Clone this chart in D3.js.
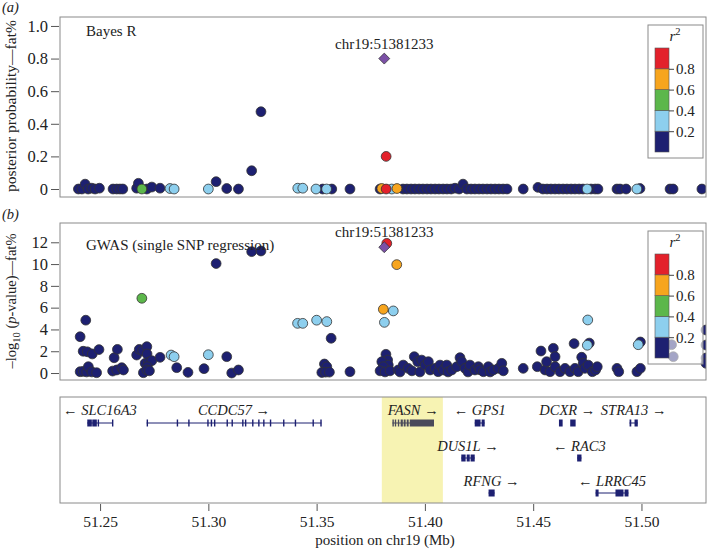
<!DOCTYPE html>
<html lang="en">
<head>
<meta charset="UTF-8">
<title>FASN region</title>
<script src="https://d3js.org/d3.v7.min.js"></script>
<style>
body{margin:0;background:#fff;}
text{font-family:"Liberation Serif","Times New Roman",serif;fill:#222;}
</style>
</head>
<body>
<script>
// r2 classes
var r2Breaks = [0.2, 0.4, 0.6, 0.8];
var r2Colors = ["#1d2071", "#8dcfee", "#5cb74b", "#f7a51e", "#e3212b"];
var leadSnp = {pos: 51.381233, label: "chr19:51381233", bayes: 0.80, gwas: 11.55};

var xTicks = [51.25, 51.30, 51.35, 51.40, 51.45, 51.50];
var bayesTicks = [0, 0.2, 0.4, 0.6, 0.8, 1.0];
var gwasTicks = [0, 2, 4, 6, 8, 10, 12];

// [position Mb, posterior probability, r2]
var bayesSnps = [
  [51.2400,0,.1],[51.2416,0,.1],[51.2431,0.03,.1],[51.2445,0,.1],[51.2462,0.005,.1],[51.2477,0,.1],[51.2497,0.005,.1],
  [51.2560,0,.1],[51.2577,0,.1],[51.2592,0,.1],[51.2605,0,.1],
  [51.2669,0.005,.1],[51.2677,0.035,.1],[51.2693,0,.5],[51.2716,0,.1],[51.2739,0.012,.1],[51.2777,0.005,.1],
  [51.2823,0.003,.3],[51.2842,0,.3],
  [51.3000,0,.3],[51.3036,0.045,.1],[51.3085,0.003,.1],[51.3139,0,.1],[51.3200,0.112,.1],[51.3243,0.474,.1],
  [51.3413,0.005,.3],[51.3436,0.005,.3],[51.3497,0,.3],[51.3528,0,.1],[51.3546,0,.3],[51.3570,0,.1],[51.3654,0,.1],
  [51.3793,0,.1],[51.3801,0.003,.7],[51.3821,0.2,.9],[51.3821,0,.9],[51.3847,0,.3],[51.3871,0.003,.7],
  [51.3899,0,.1],[51.3917,0,.1],[51.3936,0,.1],[51.3954,0,.1],[51.3973,0,.1],[51.3991,0,.1],[51.4010,0,.1],
  [51.4028,0,.1],[51.4047,0,.1],[51.4065,0,.1],[51.4084,0,.1],[51.4102,0,.1],[51.4121,0,.1],[51.4139,0.005,.1],
  [51.4158,0,.1],[51.4176,0.03,.1],[51.4194,0,.1],[51.4213,0,.1],[51.4231,0,.1],[51.4250,0,.1],[51.4268,0,.1],
  [51.4287,0,.1],[51.4305,0,.1],[51.4324,0,.1],[51.4342,0,.1],[51.4361,0,.1],[51.4379,0,.1],
  [51.4454,0,.1],[51.4522,0.01,.1],[51.4545,0,.1],[51.4564,0,.1],[51.4582,0,.1],[51.4601,0,.1],[51.4619,0,.1],
  [51.4638,0,.1],[51.4656,0,.1],[51.4675,0,.1],[51.4693,0,.1],[51.4712,0,.1],[51.4730,0,.1],[51.4749,0,.3],
  [51.4767,0,.1],[51.4786,0,.1],[51.4799,0,.1],
  [51.4887,0,.1],[51.4901,0,.1],[51.4929,0,.1],[51.4979,0,.3],[51.4993,0.003,.1],
  [51.5132,0,.1],[51.5146,0,.1],[51.5279,0,.1]
];

// [position Mb, -log10 p, r2]
var gwasSnps = [
  [51.2408,3.33,.1],[51.2434,4.85,.1],[51.2422,2.0,.1],[51.2441,1.95,.1],[51.2464,1.75,.1],[51.2495,2.15,.1],
  [51.2408,0.12,.1],[51.2422,0.15,.1],[51.2438,0.1,.1],[51.2446,0.58,.1],[51.2462,0.1,.1],[51.2484,0.03,.1],
  [51.2565,1.4,.1],[51.2580,2.17,.1],[51.2558,0.18,.1],[51.2577,0.28,.1],[51.2600,0.49,.1],[51.2608,0.28,.1],
  [51.2669,1.65,.1],[51.2681,2.17,.1],[51.2697,2.05,.1],[51.2716,2.42,.1],[51.2717,1.75,.1],[51.2708,0.89,.1],
  [51.2723,0.98,.1],[51.2739,1.13,.1],[51.2718,0.58,.1],[51.2700,0.03,.1],[51.2716,0.28,.1],[51.2728,0.2,.1],
  [51.2693,6.86,.5],
  [51.2777,1.44,.1],[51.2828,1.65,.3],[51.2842,1.5,.3],[51.2854,0.49,.1],[51.2906,0.06,.1],
  [51.3000,1.68,.3],[51.2980,0.4,.1],[51.3036,10.05,.1],[51.3085,1.5,.1],[51.3108,0.0,.1],[51.3139,0.28,.1],
  [51.3200,11.14,.1],[51.3243,11.2,.1],
  [51.3412,4.56,.3],[51.3436,4.56,.3],[51.3500,4.85,.3],[51.3547,4.72,.3],
  [51.3567,3.19,.1],[51.3536,0.83,.1],[51.3547,0.58,.1],[51.3524,0.05,.1],[51.3541,0.08,.1],[51.3559,0.08,.1],
  [51.3654,0.12,.1],
  [51.3808,5.85,.7],[51.3854,5.7,.3],[51.3813,4.65,.3],[51.3870,9.95,.7],[51.3824,11.9,.9],
  [51.3820,1.72,.1],[51.3828,1.19,.1],[51.3801,1.04,.1],[51.3831,0.73,.1],[51.3808,0.58,.1],[51.3793,0.2,.1],
  [51.3816,0.1,.1],[51.3839,0.2,.1],
  [51.3877,0.28,.1],[51.3885,0.1,.1],[51.3900,0.73,.1],[51.3923,0.43,.1],[51.3940,0.2,.1],[51.3951,1.5,.1],
  [51.3967,1.04,.1],[51.3977,0.1,.1],[51.3985,1.19,.1],[51.4001,0.73,.1],[51.4016,1.04,.1],[51.4024,0.28,.1],
  [51.4047,0.43,.1],[51.4061,0.12,.1],[51.4070,0.73,.1],[51.4085,0.28,.1],[51.4101,0.73,.1],[51.4107,0.1,.1],
  [51.4124,0.28,.1],[51.4147,0.58,.1],[51.4162,1.41,.1],[51.4170,1.04,.1],[51.4185,0.43,.1],[51.4199,0.1,.1],
  [51.4208,0.73,.1],[51.4231,0.28,.1],[51.4247,0.58,.1],[51.4254,0.3,.1],[51.4270,0.12,.1],[51.4293,0.58,.1],
  [51.4301,0.1,.1],[51.4316,0.28,.1],[51.4339,0.43,.1],[51.4355,0.89,.1],[51.4362,0.2,.1],
  [51.4454,0.43,.1],
  [51.4519,0.58,.1],[51.4536,2.02,.1],[51.4555,0.28,.1],[51.4562,1.04,.1],[51.4578,0.12,.1],[51.4593,2.27,.1],
  [51.4601,1.5,.1],[51.4601,0.58,.1],[51.4624,0.12,.1],[51.4647,0.43,.1],[51.4670,0.12,.1],[51.4689,2.7,.1],
  [51.4693,0.43,.1],[51.4708,0.12,.1],[51.4724,1.45,.1],[51.4731,0.89,.1],[51.4739,0.43,.1],[51.4754,0.73,.1],
  [51.4759,2.75,.1],[51.4750,2.55,.3],[51.4752,4.87,.3],[51.4773,0.12,.1],[51.4788,0.28,.1],[51.4796,0.58,.1],
  [51.4887,0.43,.1],[51.4895,0.12,.1],[51.4979,0.12,.1],[51.4995,0.43,.1],[51.4995,2.85,.1],[51.4985,2.6,.3],
  [51.5139,2.6,.1],[51.5147,1.5,.1],
  [51.5298,3.95,.1],[51.5298,2.57,.1],[51.5298,1.38,.1],[51.5298,0.89,.1]
];

var highlightRange = [51.3801, 51.4083];

var genes = [
  {name: "SLC16A3", strand: -1, row: 0, exons: [[51.2441,51.2462],[51.2464,51.2485],[51.2489,51.2492],[51.2555,51.2558]]},
  {name: "CCDC57", strand: 1, row: 0, exons: [[51.2715,51.2717],[51.2854,51.2856],[51.2907,51.2909],[51.2995,51.2997],
    [51.3011,51.3013],[51.3026,51.3028],[51.3084,51.3086],[51.3107,51.3109],[51.3156,51.3158],[51.3169,51.3171],
    [51.3202,51.3204],[51.3230,51.3232],[51.3253,51.3255],[51.3284,51.3286],[51.3345,51.3347],[51.3399,51.3401],
    [51.3481,51.3483],[51.3517,51.3522]]},
  {name: "FASN", strand: 1, row: 0, exons: [[51.3850,51.3854],[51.3861,51.3865],[51.3875,51.3881],[51.3888,51.3898],
    [51.3902,51.3911],[51.3916,51.3925],[51.3930,51.4042]]},
  {name: "GPS1", strand: -1, row: 0, exons: [[51.4230,51.4257],[51.4262,51.4276]]},
  {name: "DCXR", strand: 1, row: 0, noIntron: true, exons: [[51.4619,51.4636],[51.4671,51.4696]]},
  {name: "STRA13", strand: 1, row: 0, exons: [[51.4945,51.4953],[51.4968,51.4983]]},
  {name: "DUS1L", strand: 1, row: 1, exons: [[51.4168,51.4188],[51.4193,51.4207],[51.4211,51.4230]]},
  {name: "RAC3", strand: -1, row: 1, exons: [[51.4703,51.4723]]},
  {name: "RFNG", strand: 1, row: 2, exons: [[51.4294,51.4322]]},
  {name: "LRRC45", strand: -1, row: 2, exons: [[51.4788,51.4802],[51.4880,51.4917],[51.4922,51.4940]]}
];

var width = 710, height = 551;
var left = 60, right = 706;
var frameColor = "#8a8a8a";
var navy = r2Colors[0];

var svg = d3.select("body").append("svg")
  .attr("width", width).attr("height", height);

var x = d3.scaleLinear().domain([51.2315, 51.5298]).range([left, right]);
var color = d3.scaleThreshold().domain(r2Breaks).range(r2Colors);

function drawPanel(id, top, bottom, yDomain, ticks, fmt, data, leadVal, title, leadLabelY, legendOpacity) {
  var y = d3.scaleLinear().domain(yDomain).range([bottom, top]);
  svg.append("clipPath").attr("id", id)
    .append("rect").attr("x", left).attr("y", top).attr("width", right - left).attr("height", bottom - top);

  svg.append("g")
    .attr("transform", "translate(59,0)")
    .call(d3.axisLeft(y).tickValues(ticks).tickSize(8).tickPadding(3).tickFormat(fmt))
    .call(function(g){
      g.select(".domain").remove();
      g.selectAll("line").attr("stroke", "#555");
      g.selectAll("text").style("font-size", "16.5px").attr("fill", "#222");
    });

  var g = svg.append("g").attr("clip-path", "url(#" + id + ")");
  var sorted = data.slice().sort(function(a, b){ return a[2] - b[2]; });
  g.selectAll("circle").data(sorted).enter().append("circle")
    .attr("cx", function(d){ return x(d[0]); })
    .attr("cy", function(d){ return y(d[1]); })
    .attr("r", 4.9)
    .attr("fill", function(d){ return color(d[2]); })
    .attr("stroke", "#333")
    .attr("stroke-width", 0.8);

  g.append("path")
    .attr("d", d3.symbol(d3.symbolSquare, 60)())
    .attr("transform", "translate(" + x(leadSnp.pos) + "," + y(leadVal) + ") rotate(45)")
    .attr("fill", "#7b50a6")
    .attr("stroke", "#333")
    .attr("stroke-width", 0.7);

  svg.append("text").attr("x", 86).attr("y", title.y).style("font-size", "15px").text(title.text);
  svg.append("text").attr("x", x(leadSnp.pos)).attr("y", leadLabelY)
    .attr("text-anchor", "middle").style("font-size", "15px").text(leadSnp.label);

  drawLegend(top + 8, legendOpacity);

  svg.append("rect").attr("x", left).attr("y", top).attr("width", right - left).attr("height", bottom - top)
    .attr("fill", "none").attr("stroke", frameColor).attr("stroke-width", 1);
}

function drawLegend(top, opacity) {
  var bx = 648, bw = 55, bh = 133;
  svg.append("rect").attr("x", bx).attr("y", top).attr("width", bw).attr("height", bh)
    .attr("fill", "#fff").attr("fill-opacity", opacity)
    .attr("stroke", frameColor).attr("stroke-width", 1);
  var t = svg.append("text").attr("x", 675).attr("y", top + 16).attr("text-anchor", "middle").style("font-size", "15px");
  t.append("tspan").style("font-style", "italic").text("r");
  t.append("tspan").attr("dy", -6).style("font-size", "10.5px").text("2");

  var ly = d3.scaleLinear().domain([0, 1]).range([top + 127, top + 23]);
  var edges = [0].concat(r2Breaks, [1]);
  svg.append("g").selectAll("rect").data(r2Colors).enter().append("rect")
    .attr("x", 655).attr("width", 14)
    .attr("y", function(d, i){ return ly(edges[i + 1]); })
    .attr("height", function(d, i){ return ly(edges[i]) - ly(edges[i + 1]); })
    .attr("fill", function(d){ return d; })
    .attr("stroke", "#555").attr("stroke-width", 0.6);
  svg.append("g").attr("transform", "translate(669,0)")
    .call(d3.axisRight(ly).tickValues(r2Breaks).tickSize(5).tickPadding(2).tickFormat(d3.format(".1f")))
    .call(function(g){
      g.select(".domain").remove();
      g.selectAll("line").attr("stroke", "#444");
      g.selectAll("text").style("font-size", "15px").attr("fill", "#222");
    });
}

// panel labels
svg.append("text").attr("x", 2).attr("y", 12).style("font-size", "14.5px").style("font-style", "italic").text("(a)");
svg.append("text").attr("x", 2).attr("y", 219).style("font-size", "14.5px").style("font-style", "italic").text("(b)");

drawPanel("clipA", 17, 197, [-0.049, 1.055], bayesTicks,
  function(d){ return d === 0 ? "0" : d3.format(".1f")(d); },
  bayesSnps, leadSnp.bayes, {text: "Bayes R", y: 36}, 49, 1);

drawPanel("clipB", 223, 380, [-0.64, 13.77], gwasTicks, d3.format("d"),
  gwasSnps, leadSnp.gwas, {text: "GWAS (single SNP regression)", y: 250}, 237, 0.6);

// y titles
svg.append("text").attr("transform", "translate(16,106) rotate(-90)")
  .attr("text-anchor", "middle").style("font-size", "15.5px").text("posterior probability\u2014fat%");
var yt = svg.append("text").attr("transform", "translate(16,301) rotate(-90)")
  .attr("text-anchor", "middle").style("font-size", "14.5px");
yt.append("tspan").text("\u2013log");
yt.append("tspan").attr("dy", 4).style("font-size", "10.5px").text("10");
yt.append("tspan").attr("dy", -4).text(" (");
yt.append("tspan").style("font-style", "italic").text("p");
yt.append("tspan").text("-value)\u2014fat%");

// gene track
var gTop = 397, gBottom = 503;
var rowY = [423, 458, 493];
var labelY = [415, 451, 486];

svg.append("rect").attr("x", x(highlightRange[0])).attr("y", gTop)
  .attr("width", x(highlightRange[1]) - x(highlightRange[0])).attr("height", gBottom - gTop)
  .attr("fill", "#f7f3b3");

var gg = svg.append("g");
genes.forEach(function(gene){
  var s = d3.min(gene.exons, function(e){ return e[0]; });
  var e = d3.max(gene.exons, function(e){ return e[1]; });
  var cy = rowY[gene.row];
  var col = gene.name === "FASN" ? "#4a4a5a" : navy;
  if (!gene.noIntron) {
    gg.append("line").attr("x1", x(s)).attr("x2", x(e)).attr("y1", cy).attr("y2", cy)
      .attr("stroke", col).attr("stroke-width", 1);
  }
  gg.selectAll(null).data(gene.exons).enter().append("rect")
    .attr("x", function(d){ return x(d[0]); })
    .attr("width", function(d){ return Math.max(1.4, x(d[1]) - x(d[0])); })
    .attr("y", cy - 3.5).attr("height", 7)
    .attr("fill", col);
  var lab = gg.append("text").attr("x", x((s + e) / 2)).attr("y", labelY[gene.row])
    .attr("text-anchor", "middle").style("font-size", "14.5px")
    .attr("fill", gene.name === "FASN" ? "#333" : "#222");
  if (gene.strand < 0) lab.append("tspan").text("\u2190 ");
  lab.append("tspan").style("font-style", "italic").text(gene.name);
  if (gene.strand > 0) lab.append("tspan").text(" \u2192");
});

svg.append("rect").attr("x", left).attr("y", gTop).attr("width", right - left).attr("height", gBottom - gTop)
  .attr("fill", "none").attr("stroke", frameColor).attr("stroke-width", 1);

svg.append("g").attr("transform", "translate(0," + (gBottom + 1) + ")")
  .call(d3.axisBottom(x).tickValues(xTicks).tickSize(7).tickPadding(5).tickFormat(d3.format(".2f")))
  .call(function(g){
    g.select(".domain").remove();
    g.selectAll("line").attr("stroke", "#555");
    g.selectAll("text").style("font-size", "15.5px").attr("fill", "#222");
  });

svg.append("text").attr("x", 385).attr("y", 545).attr("text-anchor", "middle")
  .style("font-size", "15px").text("position on chr19 (Mb)");
</script>
</body>
</html>
